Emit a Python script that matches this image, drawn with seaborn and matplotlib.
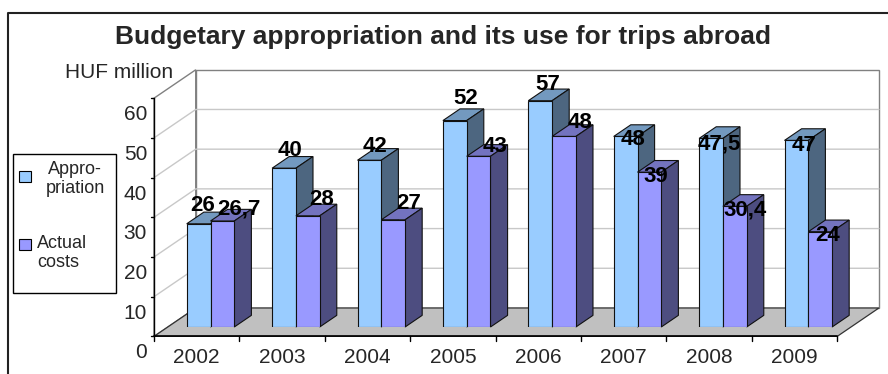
import numpy as np
import pandas as pd
import matplotlib
matplotlib.use("Agg")
import matplotlib.pyplot as plt
import seaborn as sns
from matplotlib.patches import Polygon, Rectangle

# ---------------- data ----------------
years = ["2002", "2003", "2004", "2005", "2006", "2007", "2008", "2009"]
appropriation = [26, 40, 42, 52, 57, 48, 47.5, 47]
actual_costs = [26.7, 28, 27, 43, 48, 39, 30.4, 24]
series_names = ["Appropriation", "Actual costs"]
legend_labels = ["Appro-\npriation", "Actual\ncosts"]
y_ticks = [0, 10, 20, 30, 40, 50, 60]
title_text = "Budgetary appropriation and its use for trips abroad"
unit_text = "HUF million"

# ---------------- layout / style ----------------
# value-label offsets from bar top-centre, in pixels (x right, y up)
appr_label_dx = [4, 6.3, 5.6, 10.5, 7.7, 7.8, 8.7, 7.3]
appr_label_dy = [18.6, 17.3, 13.7, 21.7, 16.7, -2.7, -6, -5]
act_label_dx = [16.3, 14, 15.6, 16.3, 16.2, 6.7, 9.8, 7.3]
act_label_dy = [12.3, 16.7, 16.7, 9.4, 14, -4.3, -4, -3.4]

front_colors = ["#99CCFF", "#9999FF"]
top_colors = ["#7399BF", "#7373BF"]
side_colors = ["#4D6680", "#4D4D80"]

W, H, DPI = 888, 374, 100
DEPTH = np.array([41.7, -28.4])   # front -> back wall, pixels (y down)
BAR_PLANE = 0.33                  # bar fronts at this fraction of depth
BAR_DEPTH = 0.41                  # bar depth as fraction of depth

sns.set_theme(style="white")
plt.rcParams["font.family"] = ["Liberation Sans", "DejaVu Sans"]

fig = plt.figure(figsize=(W / DPI, H / DPI), dpi=DPI)
fig.patch.set_facecolor("white")

deco = fig.add_axes([0, 0, 1, 1], zorder=0)
deco.set_xlim(0, W)
deco.set_ylim(H, 0)
deco.axis("off")

bar_left, bar_right = 167.8, 851.0
bar_base, px_per_unit = 327.0, 3.97
ymax = y_ticks[-1]
ax = fig.add_axes([bar_left / W, (H - bar_base) / H,
                   (bar_right - bar_left) / W, ymax * px_per_unit / H], zorder=2)
ax.patch.set_alpha(0)

df = pd.DataFrame({
    "year": years * 2,
    "value": appropriation + actual_costs,
    "series": [series_names[0]] * len(years) + [series_names[1]] * len(years),
})
sns.barplot(data=df, x="year", y="value", hue="series", hue_order=series_names,
            palette=front_colors, saturation=1, width=0.557, errorbar=None,
            edgecolor="#111111", linewidth=0.8, legend=False, ax=ax)
ax.set_xlim(-0.5, len(years) - 0.5)
ax.set_ylim(0, ymax)
ax.axis("off")

# pixel scale of the bar axes
p0 = ax.transData.transform((0, 0))
p1 = ax.transData.transform((1, 1))
ppx, ppy = p1[0] - p0[0], p1[1] - p0[1]
ddx = BAR_DEPTH * DEPTH[0] / ppx
ddy = -BAR_DEPTH * DEPTH[1] / ppy

# 3-D faces of the bars
for j, cont in enumerate(ax.containers):
    for rect in cont.patches:
        x0, w, h = rect.get_x(), rect.get_width(), rect.get_height()
        rect.set_zorder(3 + j)
        top = Polygon([(x0, h), (x0 + w, h), (x0 + w + ddx, h + ddy), (x0 + ddx, h + ddy)],
                      closed=True, fc=top_colors[j], ec="#111111", lw=0.8,
                      clip_on=False, zorder=2.9 + j)
        side = Polygon([(x0 + w, 0), (x0 + w + ddx, ddy), (x0 + w + ddx, h + ddy), (x0 + w, h)],
                       closed=True, fc=side_colors[j], ec="#111111", lw=0.8,
                       clip_on=False, zorder=2.9 + j)
        ax.add_patch(top)
        ax.add_patch(side)

# value labels
def fmt(v):
    return f"{v:g}".replace(".", ",")

for j, (vals, dxs, dys) in enumerate([(appropriation, appr_label_dx, appr_label_dy),
                                     (actual_costs, act_label_dx, act_label_dy)]):
    for rect, v, dx, dy in zip(ax.containers[j].patches, vals, dxs, dys):
        cx = rect.get_x() + rect.get_width() / 2
        ax.annotate(fmt(v), xy=(cx, rect.get_height()),
                    xytext=(dx * 72 / DPI, dy * 72 / DPI), textcoords="offset points",
                    ha="center", va="center", fontsize=16, fontweight="bold",
                    color="black", zorder=10, annotation_clip=False)

# ---------------- 3-D frame derived from bar axes ----------------
def to_px(x, v):
    X, Y = ax.transData.transform((x, v))
    return np.array([X, H - Y])

def front(x, v):
    return to_px(x, v) - BAR_PLANE * DEPTH

def back(x, v):
    return to_px(x, v) + (1 - BAR_PLANE) * DEPTH

xl, xr = -0.5, len(years) - 0.5
wall_ec = "#808080"
deco.add_patch(Polygon([front(xl, 0), back(xl, 0), back(xl, ymax), front(xl, ymax)],
                       closed=True, fc="white", ec=wall_ec, lw=1, zorder=1))
deco.add_patch(Polygon([back(xl, 0), back(xr, 0), back(xr, ymax), back(xl, ymax)],
                       closed=True, fc="white", ec=wall_ec, lw=1, zorder=1))
for v in y_ticks[1:-1]:
    pts = np.array([front(xl, v), back(xl, v), back(xr, v)])
    deco.plot(pts[:, 0], pts[:, 1], color="#C8C8C8", lw=1, zorder=2)
deco.add_patch(Polygon([front(xl, 0), back(xl, 0), back(xr, 0), front(xr, 0)],
                       closed=True, fc="#C0C0C0", ec="#333333", lw=0.9, zorder=3))

# value axis (front-left edge)
a0, a1 = front(xl, 0), front(xl, ymax)
deco.plot([a0[0], a1[0]], [a0[1], a1[1]], color="black", lw=1, zorder=4)
for v in y_ticks:
    p = front(xl, v)
    deco.plot([p[0] - 3.5, p[0]], [p[1], p[1]], color="black", lw=1, zorder=4)
    deco.text(p[0] - 7, p[1] + 16.6, str(v), ha="right", va="center", fontsize=15, zorder=5)

# category axis
b0, b1 = front(xl, 0), front(xr, 0)
deco.plot([b0[0], b1[0]], [b0[1], b1[1]], color="black", lw=1.2, zorder=4)
for k in range(len(years) + 1):
    p = front(k - 0.5, 0)
    deco.plot([p[0], p[0]], [p[1], p[1] + 5], color="black", lw=1, zorder=4)
for k, yr in enumerate(years):
    p = front(k, 0)
    deco.text(p[0], p[1] + 21.6, yr, ha="center", va="center", fontsize=15, zorder=5)

# title and unit
deco.text(443, 37, title_text, ha="center", va="center", fontsize=19,
          fontweight="bold", zorder=5)
deco.text(119, 72.5, unit_text, ha="center", va="center", fontsize=15, zorder=5)

# outer border
deco.plot([8, 8, W + 5], [H + 5, 13, 13], color="#222222", lw=1.5, zorder=5, clip_on=False)

# legend
deco.add_patch(Rectangle((12.7, 154), 103, 139, fc="white", ec="black", lw=1, zorder=5))
deco.add_patch(Rectangle((19, 171), 12, 11, fc=front_colors[0], ec="black", lw=0.8, zorder=6))
deco.add_patch(Rectangle((19, 239), 12, 11, fc=front_colors[1], ec="black", lw=0.8, zorder=6))
deco.text(75, 179, legend_labels[0], ha="center", va="center", multialignment="center",
          fontsize=13, linespacing=1.15, zorder=6)
deco.text(37, 253, legend_labels[1], ha="left", va="center", multialignment="left",
          fontsize=13, linespacing=1.15, zorder=6)

fig.savefig("out.png", dpi=DPI, facecolor="white")
